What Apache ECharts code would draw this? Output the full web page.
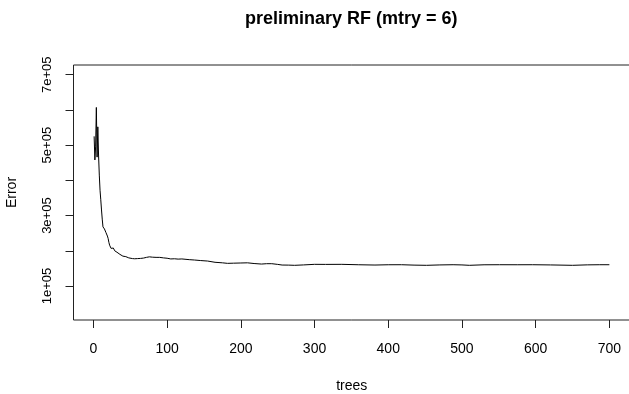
<!DOCTYPE html>
<html>
<head>
<meta charset="utf-8">
<script src="https://cdn.jsdelivr.net/npm/echarts@6/dist/echarts.min.js"></script>
<style>html,body{margin:0;padding:0;background:#fff}#c{width:629px;height:394px}</style>
</head>
<body>
<div id="c"></div>
<script>
var trees = [1,2,3,4,5,6,7,8,9,10,11,12,13,14,15,16,17,18,19,20,21,22,23,24,25,26,27,28,29,30,32,34,36,38,40,42,44,46,48,50,53,56,60,64,68,72,76,80,85,90,95,100,105,110,115,120,130,137,145,155,165,175,182,190,200,209,218,228,235,242,250,256,265,273,285,300,315,337,360,382,400,418,435,452,470,488,500,510,530,551,575,596,620,650,670,687,700];
var errorValues = [525000,458000,495000,607000,466000,552000,472000,415000,372000,345000,316000,290000,268000,265000,262000,259000,252000,248000,242000,235000,224000,216000,212000,207000,209000,205000,208000,203000,200000,201000,196000,194000,190000,186000,185000,183000,183500,181000,180000,179500,178000,177500,178000,178500,179500,181500,183000,182000,181500,181500,180000,179000,177000,177500,176500,177000,175000,174000,172500,171000,167500,166000,164500,165000,165500,166000,164000,162500,163500,163500,161500,159700,159500,158900,160000,161700,161500,161700,160500,159700,160500,160600,159500,158900,160000,160600,160000,158900,160400,160600,160500,160600,160000,158900,160200,160600,160600];
var xTicks = [0,100,200,300,400,500,600,700];
var yTicks = [100000,200000,300000,400000,500000,600000,700000];
var yTickLabels = [100000,300000,500000,700000];

var FONT = '"Liberation Sans", Arial, sans-serif';
var chart = echarts.init(document.getElementById('c'), null, {renderer:'canvas'});
var pts = trees.map(function(t,i){return [t, errorValues[i]];});
chart.setOption({
  animation:false,
  backgroundColor:'#fff',
  title:{text:'preliminary RF (mtry = 6)', left:245, top:10, padding:0,
    textStyle:{fontFamily:FONT, fontWeight:'bold', fontSize:18, color:'#000'}},
  grid:{left:73.5, right:-1, top:65, bottom:74, show:true, borderColor:'#222', borderWidth:1,
    containLabel:false, outerBoundsMode:'none'},
  xAxis:{type:'value', min:-27, max:728, name:'trees', nameLocation:'middle', nameGap:59,
    nameTextStyle:{fontFamily:FONT, fontSize:14, color:'#000'},
    axisLine:{show:false, onZero:false}, splitLine:{show:false},
    axisTick:{show:true, length:8, customValues:xTicks, lineStyle:{color:'#222'}},
    axisLabel:{customValues:xTicks, margin:22, fontFamily:FONT, fontSize:14, color:'#000'}},
  yAxis:{type:'value', min:3700, max:727500, name:'Error', nameLocation:'middle', nameGap:54, nameRotate:90,
    nameTextStyle:{fontFamily:FONT, fontSize:14, color:'#000'},
    axisLine:{show:false, onZero:false}, splitLine:{show:false},
    axisTick:{show:true, length:8, customValues:yTicks, lineStyle:{color:'#222'}},
    axisLabel:{customValues:yTickLabels, rotate:90, margin:20, fontFamily:FONT, fontSize:13, color:'#000',
      formatter:function(v){return (v/100000)+'e+05';}}},
  series:[{type:'line', data:pts, showSymbol:false, symbol:'none', lineStyle:{color:'#000', width:1}}]
});
</script>
</body>
</html>
